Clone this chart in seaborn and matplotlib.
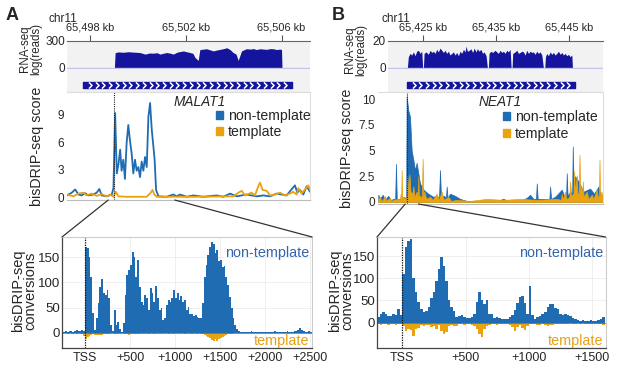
import numpy as np
import matplotlib
matplotlib.use("Agg")
import matplotlib.pyplot as plt
from matplotlib.patches import Patch, ConnectionPatch
from matplotlib.path import Path
import seaborn as sns

sns.set_style("white")
plt.rcParams["font.family"] = ["Liberation Sans", "DejaVu Sans"]

BLUE = "#1f6cb2"
ORANGE = "#eaa20e"
NAVY = "#14149c"
TRACK_BG = "#f2f2f2"
TXT_BLUE = "#3565ac"
TXT_ORANGE = "#e6a117"

# ---------------- data ----------------
# gene annotation / TSS (kb on chr11)
tss_a_kb = 65499.02
tss_b_kb = 65422.73
malat1_start, malat1_end = 65497.72, 65506.43
neat1_start, neat1_end = 65422.73, 65445.78

# RNA-seq coverage
rna_a_kb = [65499.02, 65499.05, 65499.18, 65499.40, 65499.60, 65499.80, 65500.09, 65500.30,
            65500.50, 65500.64, 65500.80, 65500.92, 65501.05, 65501.20, 65501.35, 65501.48,
            65501.65, 65501.90, 65502.05, 65502.18, 65502.30, 65502.38, 65502.52, 65502.59,
            65502.75, 65502.87, 65503.00, 65503.15, 65503.30, 65503.43, 65503.58, 65503.71,
            65503.85, 65503.98, 65504.10, 65504.19, 65504.33, 65504.45, 65504.54, 65504.70,
            65504.82, 65504.95, 65505.10, 65505.25, 65505.38, 65505.52, 65505.65, 65505.80,
            65505.93, 65506.00, 65506.02]
rna_a_val = [0, 165, 174, 170, 176, 172, 167, 150,
             162, 160, 165, 150, 158, 167, 160, 150,
             172, 185, 175, 167, 158, 115, 80, 200,
             205, 209, 198, 185, 195, 202, 210, 220,
             200, 167, 150, 80, 185, 200, 209, 205,
             211, 200, 209, 205, 202, 210, 209, 200,
             205, 200, 0]

rna_b_kb = [65422.81, 65422.95, 65423.18, 65423.41, 65423.64, 65423.86, 65424.09, 65424.32,
            65424.55, 65424.78, 65424.91, 65425.01, 65425.10, 65425.37, 65425.69, 65425.92,
            65426.15, 65426.38, 65426.60, 65426.83, 65427.06, 65427.29, 65427.52, 65427.75,
            65427.97, 65428.20, 65428.43, 65428.66, 65428.89, 65429.12, 65429.34, 65429.57,
            65429.80, 65430.03, 65430.26, 65430.49, 65430.71, 65430.85, 65431.03, 65431.31,
            65431.49, 65431.76, 65431.95, 65432.22, 65432.40, 65432.63, 65432.86, 65433.13,
            65433.32, 65433.59, 65433.77, 65433.91, 65434.00, 65434.23, 65434.50, 65434.82,
            65435.05, 65435.28, 65435.51, 65435.74, 65435.97, 65436.19, 65436.42, 65436.65,
            65436.88, 65437.02, 65437.15, 65437.24, 65437.56, 65437.79, 65438.02, 65438.25,
            65438.48, 65438.71, 65438.93, 65439.16, 65439.39, 65439.62, 65439.85, 65440.08,
            65440.30, 65440.53, 65440.76, 65440.99, 65441.22, 65441.44, 65441.63, 65441.72,
            65441.90, 65442.13, 65442.36, 65442.59, 65442.81, 65443.04, 65443.27, 65443.50,
            65443.73, 65443.96, 65444.18, 65444.41, 65444.64, 65444.87, 65445.10, 65445.33,
            65445.42]
rna_b_val = [0, 8.1, 10.5, 9.3, 11.6, 8.8, 12.1, 12.8,
             10.5, 12.1, 0, 0, 10.5, 11.6, 9.8, 12.8,
             11.2, 12.1, 10.5, 13.5, 11.6, 14.4, 12.8, 11.2,
             12.8, 10.5, 12.1, 9.3, 10.5, 11.6, 9.3, 11.2,
             8.8, 12.1, 10.5, 13.5, 11.6, 15.8, 12.1, 12.8,
             14.0, 11.2, 14.4, 11.6, 14.0, 12.1, 13.5, 10.5,
             11.6, 8.8, 0, 0, 10.5, 12.1, 11.2, 12.8,
             11.6, 10.5, 12.8, 11.2, 12.1, 10.5, 12.8, 11.6,
             13.5, 0, 0, 10.5, 11.6, 12.8, 10.5, 11.2,
             12.1, 11.6, 9.3, 12.8, 10.5, 12.1, 11.2, 11.6,
             9.8, 12.1, 10.5, 11.6, 9.3, 0, 0, 8.1,
             10.5, 8.8, 11.6, 9.8, 11.2, 9.3, 10.5, 12.1,
             9.8, 11.2, 9.3, 10.5, 8.8, 9.8, 8.1, 9.3,
             0]

# bisDRIP-seq score, MALAT1 region
score_a_nt_kb = [65497.04, 65497.24, 65497.38, 65497.52, 65497.65, 65497.79, 65497.93, 65498.14,
                 65498.28, 65498.39, 65498.49, 65498.70, 65498.91, 65498.98, 65499.05, 65499.12,
                 65499.19, 65499.26, 65499.32, 65499.39, 65499.46, 65499.53, 65499.60, 65499.67,
                 65499.74, 65499.81, 65499.88, 65499.95, 65500.02, 65500.09, 65500.16, 65500.23,
                 65500.30, 65500.37, 65500.44, 65500.51, 65500.58, 65500.65, 65500.70, 65500.76,
                 65500.86, 65501.20, 65501.48, 65501.62, 65501.76, 65502.04, 65502.32, 65502.73,
                 65503.29, 65503.57, 65503.85, 65504.13, 65504.54, 65504.96, 65505.24, 65505.52,
                 65505.80, 65506.21, 65506.56, 65506.66, 65506.77, 65506.91, 65507.05, 65507.19]
score_a_nt = [0.2, 0.5, 0.85, 0.3, 0.2, 0.45, 0.2, 0.3,
              0.5, 0.9, 0.2, 0.1, 0.3, 1.0, 9.2, 2.6,
              3.6, 5.2, 2.9, 4.1, 2.0, 5.9, 7.9, 6.2,
              4.8, 2.6, 4.1, 2.9, 3.3, 2.2, 3.9, 2.9,
              4.4, 3.3, 8.8, 10.3, 7.4, 5.5, 4.1, 0.8,
              0.1, 0.05, 0.3, 0.1, 0.3, 0.05, 0.2, 0.05,
              0.2, 0.05, 0.4, 0.1, 0.3, 0.1, 0.2, 0.1,
              0.4, 0.2, 1.3, 0.5, 0.8, 0.3, 1.2, 0.6]

score_a_t_kb = [65497.04, 65497.31, 65497.52, 65497.72, 65497.86, 65498.07, 65498.28, 65498.49,
                65498.70, 65498.84, 65498.98, 65499.07, 65499.19, 65499.53, 65500.37, 65500.54,
                65500.61, 65500.69, 65500.79, 65502.32, 65503.99, 65504.20, 65504.34, 65504.47,
                65504.75, 65504.89, 65505.03, 65505.10, 65505.21, 65505.38, 65505.52, 65505.73,
                65505.94, 65506.14, 65506.35, 65506.49, 65506.63, 65506.70, 65506.84, 65507.12,
                65507.19]
score_a_t = [0.3, 0.1, 0.4, 0.5, 0.2, 0.4, 0.15, 0.35,
             0.1, 0.3, 0.05, 0.6, 0.1, 0.05, 0.05, 0.5,
             0.8, 0.3, 0.05, 0.05, 0.1, 0.5, 0.7, 0.2,
             0.5, 0.2, 1.2, 1.6, 0.8, 0.7, 0.2, 0.3,
             0.5, 0.2, 0.4, 0.6, 0.3, 1.0, 0.4, 1.3,
             0.8]

# bisDRIP-seq score, NEAT1 region
score_b_nt_kb = [65418.84, 65419.07, 65419.44, 65419.75, 65420.21, 65420.53, 65420.99, 65421.15,
                 65421.26, 65421.37, 65421.81, 65422.27, 65422.54, 65422.66, 65422.72, 65422.95,
                 65423.18, 65423.41, 65423.64, 65423.86, 65424.09, 65424.32, 65424.55, 65425.01,
                 65425.69, 65426.38, 65426.83, 65427.15, 65427.29, 65427.42, 65427.84, 65428.10,
                 65428.20, 65428.32, 65428.66, 65429.34, 65430.03, 65430.94, 65432.77, 65435.05,
                 65435.96, 65436.65, 65437.33, 65438.25, 65439.16, 65439.62, 65440.07, 65440.43,
                 65440.53, 65440.66, 65441.44, 65442.25, 65442.36, 65442.50, 65443.04, 65443.96,
                 65444.32, 65444.55, 65444.64, 65444.75, 65445.10, 65445.38, 65445.46, 65445.58,
                 65445.78, 65446.24, 65446.92, 65447.84, 65448.38, 65448.98, 65449.30, 65449.58,
                 65449.66]
score_b_nt = [0.7, 0.3, 0.7, 0.2, 0.6, 0.2, 0.3, 0.3,
              3.7, 0.3, 0.3, 0.5, 0.4, 0.5, 10.3, 8.9,
              8.3, 5.0, 4.1, 3.1, 3.8, 2.8, 1.8, 1.2,
              0.8, 0.5, 0.6, 0.4, 3.1, 0.5, 0.6, 0.4,
              1.5, 0.4, 0.8, 0.6, 0.3, 0.1, 0.1, 0.1,
              0.3, 0.1, 0.2, 0.1, 0.4, 0.7, 0.3, 0.3,
              1.8, 0.3, 0.3, 0.3, 1.5, 0.3, 0.5, 1.2,
              0.5, 0.6, 2.8, 0.6, 1.0, 0.9, 5.4, 1.2,
              2.5, 2.0, 1.0, 1.3, 0.8, 1.5, 0.6, 0.7,
              2.3]

score_b_t_kb = [65418.84, 65419.07, 65419.25, 65419.44, 65419.75, 65419.90, 65420.07, 65420.44,
                65420.60, 65420.90, 65421.58, 65421.80, 65421.90, 65421.97, 65422.04, 65422.12,
                65422.30, 65422.55, 65422.72, 65422.81, 65422.95, 65423.10, 65423.25, 65423.50,
                65423.64, 65423.78, 65424.09, 65424.25, 65424.32, 65424.40, 65424.55, 65424.80,
                65424.91, 65425.02, 65425.14, 65425.40, 65425.92, 65426.30, 65426.83, 65427.10,
                65427.52, 65427.80, 65428.43, 65428.80, 65429.57, 65431.40, 65433.68, 65435.96,
                65438.25, 65440.53, 65443.27, 65443.85, 65443.96, 65444.10, 65444.41, 65444.55,
                65444.87, 65445.00, 65445.10, 65445.25, 65445.55, 65445.65, 65445.75, 65446.01,
                65446.12, 65446.30, 65446.38, 65446.48, 65446.60, 65446.75, 65446.83, 65446.95,
                65447.38, 65447.60, 65448.07, 65448.30, 65448.75, 65448.90, 65449.05, 65449.12,
                65449.20, 65449.39, 65449.50, 65449.66]
score_b_t = [0.3, 0.5, 0.1, 0.2, 0.6, 0.1, 0.2, 0.4,
             0.1, 0.2, 0.3, 0.2, 0.8, 0.3, 3.1, 0.4,
             0.5, 0.3, 0.4, 2.5, 1.2, 2.7, 1.0, 0.8,
             1.5, 0.5, 1.0, 0.5, 2.5, 0.4, 0.6, 0.4,
             4.2, 0.6, 1.0, 0.3, 0.5, 0.2, 0.8, 0.2,
             1.0, 0.2, 0.5, 0.1, 0.2, 0.1, 0.3, 0.2,
             0.3, 0.2, 0.3, 0.2, 0.8, 0.2, 1.0, 0.3,
             0.4, 0.5, 2.0, 0.6, 0.8, 3.0, 1.0, 2.6,
             0.8, 0.9, 4.6, 1.2, 1.5, 0.6, 2.0, 0.5,
             1.0, 0.3, 0.7, 0.3, 1.2, 0.4, 0.6, 4.1,
             0.6, 1.0, 0.5, 1.2]

# bisDRIP-seq conversions, 20 bp bins (bin start, bp from TSS)
conv_a_bp = [-240, -220, -200, -180, -160, -140, -120, -100, -80, -60, -40, -20,
             0, 20, 40, 60, 80, 100, 120, 140, 160, 180,
             200, 220, 240, 260, 280, 300, 320, 340, 360, 380,
             400, 420, 440, 460, 480, 500, 520, 540, 560, 580,
             600, 620, 640, 660, 680, 700, 720, 740, 760, 780,
             800, 820, 840, 860, 880, 900, 920, 940, 960, 980,
             1000, 1020, 1040, 1060, 1080, 1100, 1120, 1140, 1160, 1180,
             1200, 1220, 1240, 1260, 1280, 1300, 1320, 1340, 1360, 1380,
             1400, 1420, 1440, 1460, 1480, 1500, 1520, 1540, 1560, 1580,
             1600, 1620, 1640, 1660, 1680, 1700,
             1720, 1740, 1760, 1780, 1800, 1820, 1840, 1860, 1880, 1900,
             1920, 1940, 1960, 1980, 2000, 2020, 2040, 2060, 2080, 2100,
             2120, 2140, 2160, 2180, 2200, 2220, 2240, 2260, 2280, 2300,
             2320, 2340, 2360, 2380, 2400, 2420, 2440, 2460, 2480, 2500]
conv_a_nt = [2, 3, 2, 4, 3, 2, 3, 5, 3, 4, 6, 3,
             170, 168, 150, 110, 40, 5, 30, 60, 90, 106,
             80, 75, 85, 70, 15, 3, 45, 15, 22, 8,
             2, 20, 75, 114, 125, 135, 160, 150, 110, 145,
             90, 62, 55, 75, 70, 45, 88, 80, 62, 92,
             70, 45, 50, 25, 30, 55, 66, 62, 70, 85,
             70, 80, 66, 74, 62, 65, 45, 52, 38, 37,
             33, 35, 31, 29, 30, 60, 110, 135, 155, 170,
             180, 176, 158, 165, 142, 145, 130, 132, 110, 95,
             72, 50, 30, 16, 8, 3,
             2, 1, 1, 2, 1, 1, 3, 2, 1, 1,
             2, 1, 1, 2, 1, 2, 1, 1, 2, 3,
             2, 1, 2, 1, 1, 2, 3, 2, 1, 2,
             3, 4, 6, 9, 5, 3, 2, 2, 3, 2]
conv_a_t = [-1, -1, -2, -1, -1, -2, -1, -2, -1, -2, -3, -6,
            -12, -9, -6, -4, -3, -4, -5, -4, -5, -4,
            -3, -2, -3, -2, -1, -1, -2, -3, -2, -1,
            -1, -2, -3, -3, -4, -3, -2, -3, -3, -2,
            -2, -1, -2, -1, -1, -2, -1, -1, -2, -1,
            -1, -1, -2, -1, -1, -1, -2, -1, -1, -2,
            -1, -1, -2, -1, -1, -2, -1, -1, -1, -2,
            -1, -1, -2, -1, -2, -3, -5, -7, -9, -11,
            -14, -17, -13, -16, -12, -10, -8, -6, -4, -3,
            -2, -2, -1, -1, -1, -1,
            -1, 0, -1, 0, -1, -1, 0, -1, 0, -1,
            0, -1, 0, -1, 0, -1, 0, 0, -1, 0,
            -1, 0, -1, 0, 0, -1, 0, -1, 0, 0,
            -1, -1, 0, -1, 0, -1, 0, 0, -1, 0]

conv_b_bp = [-200, -180, -160, -140, -120, -100, -80, -60, -40, -20,
             0, 20, 40, 60, 80, 100, 120, 140, 160, 180,
             200, 220, 240, 260, 280, 300, 320, 340, 360, 380,
             400, 420, 440, 460, 480, 500, 520, 540, 560, 580,
             600, 620, 640, 660, 680, 700, 720, 740, 760, 780,
             800, 820, 840, 860, 880, 900, 920, 940, 960, 980,
             1000, 1020, 1040, 1060, 1080, 1100, 1120, 1140, 1160, 1180,
             1200, 1220, 1240, 1260, 1280, 1300, 1320, 1340, 1360, 1380,
             1400, 1420, 1440, 1460, 1480, 1500, 1520, 1540, 1560, 1580]
conv_b_nt = [13, 20, 23, 20, 14, 16, 20, 18, 30, 17,
             110, 170, 185, 189, 100, 70, 47, 30, 24, 26,
             36, 55, 70, 95, 122, 148, 128, 95, 52, 36,
             26, 13, 16, 18, 13, 10, 10, 13, 20, 47,
             70, 50, 42, 52, 20, 20, 11, 12, 11, 9,
             8, 9, 12, 18, 28, 44, 58, 60, 44, 20,
             82, 18, 9, 12, 15, 19, 25, 35, 41, 42,
             33, 30, 20, 18, 20, 17, 14, 11, 8, 5,
             3, 5, 4, 3, 5, 4, 3, 5, 8, 12]
conv_b_t = [-4, -5, -4, -3, -5, -4, -3, -5, -4, -3,
            -8, -18, -14, -16, -29, -14, -12, -6, -8, -6,
            -5, -10, -8, -14, -6, -18, -26, -22, -8, -5,
            -7, -8, -4, -3, -5, -3, -4, -6, -8, -14,
            -25, -33, -14, -8, -5, -4, -3, -5, -4, -3,
            -2, -3, -5, -9, -18, -9, -6, -12, -16, -8,
            -4, -3, -4, -5, -6, -4, -6, -8, -6, -5,
            -4, -3, -4, -2, -3, -2, -1, -2, -2, -1,
            -2, -1, -2, -3, -2, -3, -2, -3, -4, -5]

BIN_BP = 20

# ---------------- layout helpers (pixel boxes) ----------------
W, H = 617, 381
fig = plt.figure(figsize=(W / 100, H / 100), dpi=100)


def px_axes(l, t, r, b):
    return fig.add_axes([l / W, 1 - b / H, (r - l) / W, (b - t) / H])


def fig_text(x, y, s, **kw):
    fig.text(x / W, 1 - y / H, s, ha="center", va="center", **kw)


CHEVRON = Path([(-0.5, 1), (0.5, 0), (-0.5, -1)], [Path.MOVETO, Path.LINETO, Path.LINETO])


def rna_track(l, r, kb, val, xlim, ymax, ticks):
    ax = px_axes(l, 40.5, r, 68.5)
    ax.set_facecolor(TRACK_BG)
    ax.fill_between(kb, val, color=NAVY, lw=0)
    ax.axhline(0, color="#c3c3ea", lw=1)
    ax.set_xlim(xlim)
    ax.set_ylim(-0.03 * ymax, ymax)
    ax.xaxis.tick_top()
    ax.set_xticks(ticks)
    ax.set_xticklabels([f"{t:,} kb" for t in ticks])
    ax.set_yticks([0, ymax])
    ax.tick_params(axis="x", direction="out", length=4, width=0.8, color="#555555",
                   pad=1.5, labelsize=7.9)
    ax.tick_params(axis="y", length=0, pad=1.5, labelsize=8.5)
    for s in ["left", "right", "bottom"]:
        ax.spines[s].set_visible(False)
    ax.spines["top"].set_color("#666666")
    ax.spines["top"].set_linewidth(0.8)
    return ax


def gene_track(l, r, xlim, start, end, n):
    ax = px_axes(l, 68.5, r, 92)
    ax.set_facecolor(TRACK_BG)
    ax.broken_barh([(start, end - start)], (0.17, 0.26), color=NAVY)
    xs = np.linspace(start, end, n + 2)[1:-1]
    ax.plot(xs, np.full(n, 0.30), ls="none", marker=CHEVRON, ms=4.5,
            mfc="none", mec="white", mew=1.1)
    ax.set_xlim(xlim)
    ax.set_ylim(0, 1)
    ax.set_xticks([])
    ax.set_yticks([])
    for s in ["left", "right", "top"]:
        ax.spines[s].set_visible(False)
    ax.spines["bottom"].set_color("#dcdcdc")
    return ax


def score_frame(ax, xlim, ylim, yticks, yticklabels, tss):
    ax.axvline(tss, color="#222222", ls=(0, (1, 1)), lw=0.8)
    ax.set_xlim(xlim)
    ax.set_ylim(ylim)
    ax.set_xticks([])
    ax.set_yticks(yticks)
    ax.set_yticklabels(yticklabels)
    ax.tick_params(axis="y", length=0, pad=2, labelsize=8.5)
    ax.set(xlabel="", ylabel="")
    ax.spines["left"].set_visible(False)
    for s in ["top", "right"]:
        ax.spines[s].set_color("#dddddd")
        ax.spines[s].set_linewidth(0.8)
    ax.spines["bottom"].set_color("#bbbbbb")
    ax.spines["bottom"].set_linewidth(0.8)


def score_legend(ax, anchor):
    handles = [Patch(color=BLUE), Patch(color=ORANGE)]
    ax.legend(handles, ["non-template", "template"], loc="upper left", bbox_to_anchor=anchor,
              frameon=False, fontsize=10.2, handlelength=0.5, handleheight=0.5,
              handletextpad=0.35, labelspacing=0.15, borderpad=0, borderaxespad=0)


def step_fill(ax, bp, vals, color):
    # each value covers one BIN_BP-wide bin starting at its bp position
    xs = list(bp) + [bp[-1] + BIN_BP]
    ys = list(vals) + [vals[-1]]
    ax.fill_between(xs, ys, step="post", color=color, lw=0)


def conv_panel(l, r, bp, nt, t, xlim, ylim, xticks, yticks):
    ax = px_axes(l, 237, r, 348)
    ax.grid(True, color="#ececec", lw=0.6)
    ax.set_axisbelow(True)
    step_fill(ax, bp, nt, BLUE)
    step_fill(ax, bp, t, ORANGE)
    ax.axhline(0, color="#666666", lw=0.5)
    ax.axvline(0, color="#111111", ls=(0, (1, 1)), lw=0.9)
    ax.set_xlim(xlim)
    ax.set_ylim(ylim)
    ax.set_xticks(xticks)
    ax.set_xticklabels(["TSS" if v == 0 else f"+{v}" for v in xticks])
    ax.set_yticks(yticks)
    ax.tick_params(axis="x", length=0, pad=3, labelsize=9)
    ax.tick_params(axis="y", length=0, pad=1.5, labelsize=9.5)
    for s in ["left", "bottom"]:
        ax.spines[s].set_color("#444444")
        ax.spines[s].set_linewidth(0.9)
    for s in ["top", "right"]:
        ax.spines[s].set_color("#cccccc")
        ax.spines[s].set_linewidth(0.8)
    ax.text(0.99, 0.856, "non-template", color=TXT_BLUE, fontsize=10.4, ha="right",
            va="center", transform=ax.transAxes)
    ax.text(0.99, 0.06, "template", color=TXT_ORANGE, fontsize=10.4, ha="right",
            va="center", transform=ax.transAxes)
    return ax


def connect(ax_top, ax_bot, tss_kb):
    yb = ax_top.get_ylim()[0]
    yt = ax_bot.get_ylim()[1]
    for xb in ax_bot.get_xlim():
        con = ConnectionPatch(xyA=(tss_kb + xb / 1000, yb), coordsA=ax_top.transData,
                              xyB=(xb, yt), coordsB=ax_bot.transData,
                              color="#333333", lw=0.9)
        fig.add_artist(con)


# ---------------- panel A ----------------
xlim_a = (65497.04, 65507.19)
rna_track(67, 310, rna_a_kb, rna_a_val, xlim_a, 300, [65498, 65502, 65506])
gene_track(67, 310, xlim_a, malat1_start, malat1_end, 30)

ax_sa = px_axes(67, 92, 310, 200)
sns.lineplot(x=score_a_nt_kb, y=score_a_nt, ax=ax_sa, color=BLUE, lw=1.3,
             sort=False, estimator=None)
sns.lineplot(x=score_a_t_kb, y=score_a_t, ax=ax_sa, color=ORANGE, lw=1.3,
             sort=False, estimator=None)
score_frame(ax_sa, xlim_a, (-0.3, 11.5), [0, 3, 6, 9], ["0", "3", "6", "9"], tss_a_kb)
score_legend(ax_sa, (0.612, 0.84))
ax_sa.text(0.547, 0.905, "MALAT1", style="italic", fontsize=9.8, ha="center", va="center",
           transform=ax_sa.transAxes)

ax_ca = conv_panel(62, 312, conv_a_bp, conv_a_nt, conv_a_t, (-256, 2522), (-30, 190),
                   [0, 500, 1000, 1500, 2000, 2500], [0, 50, 100, 150])
connect(ax_sa, ax_ca, tss_a_kb)

# ---------------- panel B ----------------
xlim_b_rna = (65420.16, 65449.6)
rna_track(388, 603, rna_b_kb, rna_b_val, xlim_b_rna, 20, [65425, 65435, 65445])
gene_track(388, 603, xlim_b_rna, neat1_start, neat1_end, 24)

ax_sb = px_axes(378, 92, 603, 204)
ax_sb.fill_between(score_b_nt_kb, score_b_nt, color=BLUE, lw=0.5, ec=BLUE)
ax_sb.fill_between(score_b_t_kb, score_b_t, color=ORANGE, lw=0.5, ec=ORANGE)
score_frame(ax_sb, (65418.8, 65449.6), (-0.2, 10.7), [0, 2.5, 5, 7.5, 10],
            ["0", "2.5", "5", "7.5", "10"], tss_b_kb)
score_legend(ax_sb, (0.555, 0.835))
ax_sb.text(0.542, 0.915, "NEAT1", style="italic", fontsize=9.8, ha="center", va="center",
           transform=ax_sb.transAxes)

ax_cb = conv_panel(377, 605.5, conv_b_bp, conv_b_nt, conv_b_t, (-200, 1606), (-57, 193),
                   [0, 500, 1000, 1500], [0, 50, 100, 150])
connect(ax_sb, ax_cb, tss_b_kb)

# ---------------- figure text ----------------
fig_text(12, 15, "A", fontsize=13, fontweight="bold")
fig_text(338, 15, "B", fontsize=13, fontweight="bold")
fig_text(63, 19, "chr11", fontsize=8.5)
fig_text(396, 19, "chr11", fontsize=8.5)
fig_text(31, 49, "RNA-seq\nlog(reads)", rotation=90, fontsize=8.3, linespacing=0.9)
fig_text(356, 50, "RNA-seq\nlog(reads)", rotation=90, fontsize=8.3, linespacing=0.9)
fig_text(37, 146, "bisDRIP-seq score", rotation=90, fontsize=10.3)
fig_text(347, 148, "bisDRIP-seq score", rotation=90, fontsize=10.3)
fig_text(24, 291, "bisDRIP-seq\nconversions", rotation=90, fontsize=10.5, linespacing=0.85)
fig_text(341, 291, "bisDRIP-seq\nconversions", rotation=90, fontsize=10.5, linespacing=0.85)

fig.savefig("out.png", dpi=100)
